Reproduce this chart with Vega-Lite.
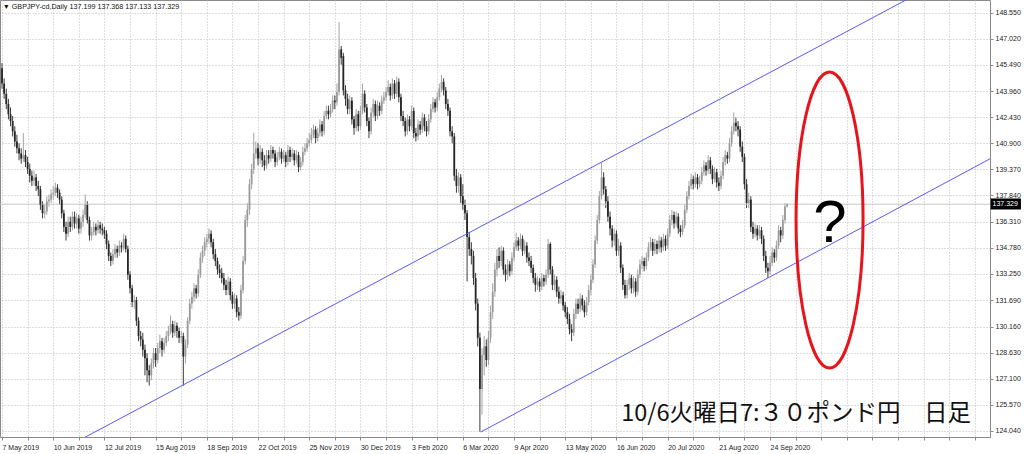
{
"$schema":"https://vega.github.io/schema/vega-lite/v6.json",
"width":990,"height":437,
"autosize":{"type":"none"},
"padding":{"left":0,"top":0,"right":34,"bottom":17},
"background":"#ffffff",
"config":{"view":{"stroke":"#8a8a8a","strokeWidth":1},"font":"Liberation Sans",
"axis":{"title":null,"domain":false,"labelFont":"Liberation Sans","labelFontSize":7,"labelColor":"#1a1a1a","ticks":true,"tickSize":3,"tickColor":"#8a8a8a","grid":true,"gridColor":"#bdbdbd","gridDash":[1,2],"gridWidth":1,"labelOverlap":false,"labelFlush":false,"labelBound":false}},
"datasets":{
"candles":[
{"i":0,"o":145.3,"h":145.6,"l":144.1,"c":144.4},{"i":1,"o":144.4,"h":144.7,"l":143.5,"c":143.8},{"i":2,"o":143.8,"h":144.1,"l":142.9,"c":143.2},{"i":3,"o":143.2,"h":143.5,"l":142.3,"c":142.6},{"i":4,"o":142.6,"h":143.0,"l":141.9,"c":142.2},{"i":5,"o":142.2,"h":142.5,"l":141.3,"c":141.6},{"i":6,"o":141.6,"h":141.9,"l":140.7,"c":141.0},{"i":7,"o":141.0,"h":141.4,"l":140.3,"c":140.6},{"i":8,"o":140.6,"h":140.9,"l":139.9,"c":140.3},{"i":9,"o":140.3,"h":140.6,"l":139.7,"c":140.0},{"i":10,"o":140.0,"h":141.5,"l":139.8,"c":140.2},{"i":11,"o":140.2,"h":140.5,"l":139.5,"c":139.8},
{"i":12,"o":139.8,"h":140.1,"l":139.1,"c":139.4},{"i":13,"o":139.4,"h":139.7,"l":138.6,"c":139.0},{"i":14,"o":139.0,"h":139.3,"l":138.4,"c":138.7},{"i":15,"o":138.7,"h":139.3,"l":138.4,"c":138.9},{"i":16,"o":138.9,"h":139.1,"l":138.1,"c":138.4},{"i":17,"o":138.4,"h":138.7,"l":137.8,"c":138.2},{"i":18,"o":138.2,"h":138.4,"l":137.0,"c":137.3},{"i":19,"o":137.3,"h":137.5,"l":136.5,"c":136.8},{"i":20,"o":136.8,"h":137.3,"l":136.5,"c":136.9},{"i":21,"o":136.9,"h":137.8,"l":136.7,"c":137.5},{"i":22,"o":137.5,"h":137.9,"l":137.2,"c":137.6},{"i":23,"o":137.6,"h":138.2,"l":137.4,"c":137.9},
{"i":24,"o":137.9,"h":138.4,"l":137.6,"c":138.0},{"i":25,"o":138.0,"h":138.6,"l":137.8,"c":138.3},{"i":26,"o":138.3,"h":138.5,"l":137.7,"c":138.0},{"i":27,"o":138.0,"h":138.2,"l":137.3,"c":137.6},{"i":28,"o":137.6,"h":137.8,"l":136.5,"c":136.8},{"i":29,"o":136.8,"h":137.0,"l":135.7,"c":136.0},{"i":30,"o":136.0,"h":136.3,"l":135.2,"c":135.6},{"i":31,"o":135.6,"h":136.6,"l":135.4,"c":136.3},{"i":32,"o":136.3,"h":136.6,"l":135.7,"c":136.0},{"i":33,"o":136.0,"h":136.9,"l":135.8,"c":136.6},{"i":34,"o":136.6,"h":136.9,"l":135.9,"c":136.2},{"i":35,"o":136.2,"h":136.8,"l":135.9,"c":136.5},
{"i":36,"o":136.5,"h":136.7,"l":135.6,"c":135.9},{"i":37,"o":135.9,"h":136.6,"l":135.6,"c":136.3},{"i":38,"o":136.3,"h":137.0,"l":136.0,"c":136.7},{"i":39,"o":136.7,"h":137.9,"l":136.5,"c":137.3},{"i":40,"o":137.3,"h":137.5,"l":136.2,"c":136.4},{"i":41,"o":136.4,"h":136.6,"l":135.2,"c":135.5},{"i":42,"o":135.5,"h":136.0,"l":135.2,"c":135.7},{"i":43,"o":135.7,"h":136.3,"l":135.5,"c":136.0},{"i":44,"o":136.0,"h":136.2,"l":135.5,"c":135.8},{"i":45,"o":135.8,"h":136.4,"l":135.6,"c":136.1},{"i":46,"o":136.1,"h":136.3,"l":135.6,"c":135.9},{"i":47,"o":135.9,"h":136.2,"l":135.5,"c":135.8},
{"i":48,"o":135.8,"h":136.0,"l":135.3,"c":135.6},{"i":49,"o":135.6,"h":135.8,"l":134.7,"c":135.0},{"i":50,"o":135.0,"h":135.2,"l":134.0,"c":134.3},{"i":51,"o":134.3,"h":134.5,"l":133.7,"c":134.0},{"i":52,"o":134.0,"h":134.7,"l":133.8,"c":134.4},{"i":53,"o":134.4,"h":135.0,"l":134.2,"c":134.7},{"i":54,"o":134.7,"h":134.9,"l":134.2,"c":134.5},{"i":55,"o":134.5,"h":135.2,"l":134.3,"c":134.9},{"i":56,"o":134.9,"h":135.1,"l":134.5,"c":134.8},{"i":57,"o":134.8,"h":135.6,"l":134.6,"c":135.3},{"i":58,"o":135.3,"h":135.5,"l":134.5,"c":134.7},{"i":59,"o":134.7,"h":134.9,"l":132.9,"c":133.2},
{"i":60,"o":133.2,"h":133.4,"l":132.1,"c":132.4},{"i":61,"o":132.4,"h":132.6,"l":131.3,"c":131.6},{"i":62,"o":131.6,"h":132.0,"l":131.2,"c":131.7},{"i":63,"o":131.7,"h":131.9,"l":130.2,"c":130.5},{"i":64,"o":130.5,"h":130.7,"l":129.3,"c":129.6},{"i":65,"o":129.6,"h":129.9,"l":129.0,"c":129.4},{"i":66,"o":129.4,"h":129.8,"l":128.4,"c":128.8},{"i":67,"o":128.8,"h":129.1,"l":127.3,"c":128.3},{"i":68,"o":128.3,"h":128.6,"l":126.9,"c":127.6},{"i":69,"o":127.6,"h":127.9,"l":126.7,"c":127.3},{"i":70,"o":127.3,"h":128.3,"l":127.0,"c":128.0},{"i":71,"o":128.0,"h":128.9,"l":127.7,"c":128.6},
{"i":72,"o":128.6,"h":128.9,"l":127.8,"c":128.2},{"i":73,"o":128.2,"h":129.2,"l":128.0,"c":128.9},{"i":74,"o":128.9,"h":129.7,"l":128.6,"c":129.3},{"i":75,"o":129.3,"h":129.5,"l":128.4,"c":128.8},{"i":76,"o":128.8,"h":129.5,"l":128.6,"c":129.2},{"i":77,"o":129.2,"h":129.9,"l":129.0,"c":129.6},{"i":78,"o":129.6,"h":130.2,"l":129.3,"c":129.9},{"i":79,"o":129.9,"h":130.8,"l":129.7,"c":130.3},{"i":80,"o":130.3,"h":130.5,"l":129.5,"c":129.8},{"i":81,"o":129.8,"h":130.5,"l":129.6,"c":130.2},{"i":82,"o":130.2,"h":130.4,"l":129.5,"c":129.9},{"i":83,"o":129.9,"h":130.1,"l":129.2,"c":129.5},
{"i":84,"o":129.5,"h":129.9,"l":129.2,"c":129.6},{"i":85,"o":129.6,"h":129.8,"l":126.7,"c":128.4},{"i":86,"o":128.4,"h":129.4,"l":128.0,"c":129.1},{"i":87,"o":129.1,"h":130.7,"l":128.9,"c":130.5},{"i":88,"o":130.5,"h":131.8,"l":130.3,"c":131.5},{"i":89,"o":131.5,"h":132.2,"l":131.2,"c":131.9},{"i":90,"o":131.9,"h":132.7,"l":131.6,"c":132.4},{"i":91,"o":132.4,"h":132.6,"l":131.8,"c":132.1},{"i":92,"o":132.1,"h":133.5,"l":131.9,"c":133.2},{"i":93,"o":133.2,"h":134.5,"l":133.0,"c":134.2},{"i":94,"o":134.2,"h":134.9,"l":133.9,"c":134.6},{"i":95,"o":134.6,"h":135.4,"l":134.3,"c":135.1},
{"i":96,"o":135.1,"h":135.6,"l":134.8,"c":135.3},{"i":97,"o":135.3,"h":135.9,"l":135.0,"c":135.6},{"i":98,"o":135.6,"h":135.8,"l":134.8,"c":135.1},{"i":99,"o":135.1,"h":135.3,"l":134.1,"c":134.4},{"i":100,"o":134.4,"h":134.7,"l":133.7,"c":134.0},{"i":101,"o":134.0,"h":134.2,"l":133.2,"c":133.5},{"i":102,"o":133.5,"h":133.8,"l":133.0,"c":133.3},{"i":103,"o":133.3,"h":133.6,"l":132.7,"c":133.0},{"i":104,"o":133.0,"h":133.3,"l":132.3,"c":132.6},{"i":105,"o":132.6,"h":132.9,"l":132.0,"c":132.3},{"i":106,"o":132.3,"h":133.1,"l":132.0,"c":132.8},{"i":107,"o":132.8,"h":133.0,"l":131.7,"c":132.0},
{"i":108,"o":132.0,"h":132.2,"l":131.2,"c":131.5},{"i":109,"o":131.5,"h":132.1,"l":131.2,"c":131.8},{"i":110,"o":131.8,"h":132.0,"l":130.7,"c":131.0},{"i":111,"o":131.0,"h":131.3,"l":130.5,"c":130.8},{"i":112,"o":130.8,"h":132.6,"l":130.6,"c":132.3},{"i":113,"o":132.3,"h":134.3,"l":132.1,"c":134.0},{"i":114,"o":134.0,"h":136.7,"l":133.8,"c":136.4},{"i":115,"o":136.4,"h":137.4,"l":136.0,"c":137.0},{"i":116,"o":137.0,"h":138.8,"l":136.7,"c":138.5},{"i":117,"o":138.5,"h":139.7,"l":138.2,"c":139.4},{"i":118,"o":139.4,"h":141.5,"l":139.1,"c":140.3},{"i":119,"o":140.3,"h":141.0,"l":140.0,"c":140.6},
{"i":120,"o":140.6,"h":140.9,"l":139.6,"c":140.0},{"i":121,"o":140.0,"h":140.8,"l":139.7,"c":140.4},{"i":122,"o":140.4,"h":140.6,"l":139.5,"c":139.9},{"i":123,"o":139.9,"h":140.2,"l":139.3,"c":139.6},{"i":124,"o":139.6,"h":140.5,"l":139.4,"c":140.2},{"i":125,"o":140.2,"h":140.5,"l":139.7,"c":140.0},{"i":126,"o":140.0,"h":140.8,"l":139.8,"c":140.5},{"i":127,"o":140.5,"h":140.7,"l":140.0,"c":140.3},{"i":128,"o":140.3,"h":140.5,"l":139.5,"c":139.8},{"i":129,"o":139.8,"h":140.4,"l":139.6,"c":140.1},{"i":130,"o":140.1,"h":140.7,"l":139.9,"c":140.4},{"i":131,"o":140.4,"h":140.6,"l":139.7,"c":140.0},
{"i":132,"o":140.0,"h":140.5,"l":139.8,"c":140.2},{"i":133,"o":140.2,"h":140.4,"l":139.5,"c":139.8},{"i":134,"o":139.8,"h":140.8,"l":139.6,"c":140.5},{"i":135,"o":140.5,"h":140.7,"l":139.8,"c":140.1},{"i":136,"o":140.1,"h":140.6,"l":139.9,"c":140.3},{"i":137,"o":140.3,"h":140.5,"l":139.6,"c":139.9},{"i":138,"o":139.9,"h":140.5,"l":139.7,"c":140.2},{"i":139,"o":140.2,"h":140.4,"l":139.2,"c":139.5},{"i":140,"o":139.5,"h":140.1,"l":139.3,"c":139.8},{"i":141,"o":139.8,"h":140.7,"l":139.6,"c":140.4},{"i":142,"o":140.4,"h":140.9,"l":140.2,"c":140.6},{"i":143,"o":140.6,"h":141.2,"l":140.4,"c":140.9},
{"i":144,"o":140.9,"h":141.5,"l":140.7,"c":141.1},{"i":145,"o":141.1,"h":141.8,"l":140.9,"c":141.4},{"i":146,"o":141.4,"h":142.0,"l":141.2,"c":141.7},{"i":147,"o":141.7,"h":141.9,"l":140.9,"c":141.2},{"i":148,"o":141.2,"h":141.8,"l":141.0,"c":141.5},{"i":149,"o":141.5,"h":142.3,"l":141.3,"c":142.0},{"i":150,"o":142.0,"h":142.2,"l":141.3,"c":141.6},{"i":151,"o":141.6,"h":142.8,"l":141.4,"c":142.5},{"i":152,"o":142.5,"h":143.1,"l":142.3,"c":142.8},{"i":153,"o":142.8,"h":143.1,"l":142.3,"c":142.6},{"i":154,"o":142.6,"h":143.2,"l":142.4,"c":142.9},{"i":155,"o":142.9,"h":143.7,"l":142.7,"c":143.4},
{"i":156,"o":143.4,"h":143.7,"l":142.9,"c":143.3},{"i":157,"o":143.3,"h":144.4,"l":143.1,"c":143.9},{"i":158,"o":143.9,"h":148.0,"l":143.7,"c":146.4},{"i":159,"o":146.4,"h":146.6,"l":145.5,"c":145.9},{"i":160,"o":146.0,"h":146.2,"l":143.7,"c":144.0},{"i":161,"o":144.0,"h":144.3,"l":143.1,"c":143.5},{"i":162,"o":143.5,"h":143.8,"l":142.6,"c":142.9},{"i":163,"o":142.9,"h":143.7,"l":142.6,"c":143.4},{"i":164,"o":143.4,"h":143.6,"l":142.0,"c":142.3},{"i":165,"o":142.3,"h":142.5,"l":141.4,"c":141.8},{"i":166,"o":141.8,"h":142.9,"l":141.6,"c":142.6},{"i":167,"o":142.6,"h":142.8,"l":141.6,"c":141.9},
{"i":168,"o":141.9,"h":143.1,"l":141.7,"c":142.8},{"i":169,"o":142.8,"h":144.4,"l":142.6,"c":143.8},{"i":170,"o":143.8,"h":144.0,"l":142.7,"c":143.0},{"i":171,"o":143.0,"h":143.2,"l":141.9,"c":142.2},{"i":172,"o":142.2,"h":142.4,"l":141.2,"c":141.6},{"i":173,"o":141.6,"h":143.0,"l":141.4,"c":142.7},{"i":174,"o":142.7,"h":143.5,"l":142.4,"c":143.2},{"i":175,"o":143.2,"h":143.4,"l":142.2,"c":142.5},{"i":176,"o":142.5,"h":143.4,"l":142.3,"c":143.1},{"i":177,"o":143.1,"h":143.3,"l":142.5,"c":142.8},{"i":178,"o":142.8,"h":143.7,"l":142.6,"c":143.4},{"i":179,"o":143.4,"h":143.9,"l":143.2,"c":143.6},
{"i":180,"o":143.6,"h":144.2,"l":143.4,"c":143.9},{"i":181,"o":143.9,"h":144.6,"l":143.7,"c":144.2},{"i":182,"o":144.2,"h":144.4,"l":143.4,"c":143.7},{"i":183,"o":143.7,"h":144.7,"l":143.5,"c":144.4},{"i":184,"o":144.4,"h":144.6,"l":143.5,"c":143.8},{"i":185,"o":143.8,"h":144.8,"l":143.6,"c":144.5},{"i":186,"o":144.5,"h":144.7,"l":143.3,"c":143.6},{"i":187,"o":143.6,"h":143.8,"l":142.2,"c":142.5},{"i":188,"o":142.5,"h":142.8,"l":141.9,"c":142.2},{"i":189,"o":142.2,"h":142.4,"l":141.3,"c":141.6},{"i":190,"o":141.6,"h":142.6,"l":141.4,"c":142.3},{"i":191,"o":142.3,"h":142.5,"l":141.6,"c":141.9},
{"i":192,"o":141.9,"h":143.1,"l":141.7,"c":142.8},{"i":193,"o":142.8,"h":143.0,"l":141.2,"c":141.5},{"i":194,"o":141.5,"h":141.8,"l":141.0,"c":141.3},{"i":195,"o":141.3,"h":142.3,"l":141.1,"c":142.0},{"i":196,"o":142.0,"h":142.2,"l":141.4,"c":141.7},{"i":197,"o":141.7,"h":142.7,"l":141.5,"c":142.4},{"i":198,"o":142.4,"h":142.6,"l":141.6,"c":141.9},{"i":199,"o":141.9,"h":142.2,"l":141.3,"c":141.6},{"i":200,"o":141.6,"h":142.6,"l":141.4,"c":142.3},{"i":201,"o":142.3,"h":143.2,"l":142.1,"c":142.9},{"i":202,"o":142.9,"h":143.6,"l":142.7,"c":143.3},{"i":203,"o":143.3,"h":143.5,"l":142.7,"c":143.0},
{"i":204,"o":143.0,"h":143.9,"l":142.8,"c":143.6},{"i":205,"o":143.6,"h":144.4,"l":143.4,"c":144.1},{"i":206,"o":144.1,"h":144.9,"l":143.9,"c":144.5},{"i":207,"o":144.5,"h":144.7,"l":143.7,"c":144.0},{"i":208,"o":144.0,"h":144.2,"l":142.9,"c":143.2},{"i":209,"o":143.2,"h":143.5,"l":142.5,"c":142.8},{"i":210,"o":142.8,"h":143.0,"l":141.3,"c":141.6},{"i":211,"o":141.6,"h":141.9,"l":140.9,"c":141.3},{"i":212,"o":141.3,"h":141.5,"l":138.7,"c":139.0},{"i":213,"o":139.0,"h":139.4,"l":138.0,"c":138.4},{"i":214,"o":138.4,"h":139.2,"l":138.0,"c":138.9},{"i":215,"o":138.9,"h":139.1,"l":137.4,"c":137.8},
{"i":216,"o":137.8,"h":138.5,"l":137.0,"c":137.3},{"i":217,"o":137.3,"h":137.6,"l":136.4,"c":136.8},{"i":218,"o":136.8,"h":137.0,"l":132.8,"c":135.4},{"i":219,"o":135.4,"h":135.7,"l":134.3,"c":134.7},{"i":220,"o":134.7,"h":135.1,"l":133.8,"c":134.3},{"i":221,"o":134.3,"h":134.6,"l":132.6,"c":133.0},{"i":222,"o":133.0,"h":133.3,"l":131.1,"c":131.5},{"i":223,"o":131.5,"h":131.8,"l":129.0,"c":129.5},{"i":224,"o":129.5,"h":129.8,"l":124.0,"c":126.5},{"i":225,"o":126.5,"h":128.9,"l":125.0,"c":128.5},{"i":226,"o":128.5,"h":129.6,"l":127.3,"c":129.0},{"i":227,"o":129.0,"h":129.4,"l":127.8,"c":128.2},
{"i":228,"o":128.2,"h":129.9,"l":127.9,"c":129.5},{"i":229,"o":129.5,"h":131.4,"l":129.2,"c":131.0},{"i":230,"o":131.0,"h":132.7,"l":130.6,"c":132.2},{"i":231,"o":132.2,"h":133.9,"l":131.9,"c":133.5},{"i":232,"o":133.5,"h":134.7,"l":133.1,"c":134.3},{"i":233,"o":134.3,"h":134.8,"l":133.6,"c":134.0},{"i":234,"o":134.0,"h":134.9,"l":133.7,"c":134.6},{"i":235,"o":134.6,"h":134.8,"l":133.2,"c":133.5},{"i":236,"o":133.5,"h":133.8,"l":132.8,"c":133.2},{"i":237,"o":133.2,"h":134.1,"l":132.9,"c":133.8},{"i":238,"o":133.8,"h":134.0,"l":133.1,"c":133.4},{"i":239,"o":133.4,"h":134.5,"l":133.2,"c":134.2},
{"i":240,"o":134.2,"h":135.1,"l":134.0,"c":134.8},{"i":241,"o":134.8,"h":135.65,"l":134.6,"c":135.2},{"i":242,"o":135.2,"h":135.4,"l":134.6,"c":134.9},{"i":243,"o":134.9,"h":135.6,"l":134.7,"c":135.3},{"i":244,"o":135.3,"h":135.5,"l":134.3,"c":134.6},{"i":245,"o":134.6,"h":135.2,"l":134.4,"c":134.9},{"i":246,"o":134.9,"h":135.1,"l":133.9,"c":134.2},{"i":247,"o":134.2,"h":134.5,"l":133.7,"c":134.0},{"i":248,"o":134.0,"h":134.3,"l":133.3,"c":133.6},{"i":249,"o":133.6,"h":133.8,"l":132.7,"c":133.0},{"i":250,"o":133.0,"h":133.3,"l":132.2,"c":132.6},{"i":251,"o":132.6,"h":133.1,"l":132.3,"c":132.8},
{"i":252,"o":132.8,"h":133.0,"l":132.2,"c":132.5},{"i":253,"o":132.5,"h":133.3,"l":132.3,"c":133.0},{"i":254,"o":133.0,"h":133.2,"l":132.5,"c":132.8},{"i":255,"o":132.8,"h":133.5,"l":132.6,"c":133.2},{"i":256,"o":133.2,"h":135.3,"l":133.0,"c":135.0},{"i":257,"o":135.0,"h":135.1,"l":133.2,"c":133.5},{"i":258,"o":133.5,"h":133.7,"l":132.3,"c":132.6},{"i":259,"o":132.6,"h":133.2,"l":132.3,"c":132.9},{"i":260,"o":132.9,"h":133.1,"l":131.9,"c":132.2},{"i":261,"o":132.2,"h":132.5,"l":131.5,"c":131.8},{"i":262,"o":131.8,"h":132.3,"l":131.5,"c":132.0},{"i":263,"o":132.0,"h":132.2,"l":131.1,"c":131.4},
{"i":264,"o":131.4,"h":131.6,"l":130.7,"c":131.0},{"i":265,"o":131.0,"h":131.3,"l":130.3,"c":130.6},{"i":266,"o":130.6,"h":130.9,"l":129.7,"c":130.0},{"i":267,"o":130.0,"h":130.3,"l":129.3,"c":129.8},{"i":268,"o":129.8,"h":131.2,"l":129.6,"c":130.9},{"i":269,"o":130.9,"h":131.8,"l":130.6,"c":131.5},{"i":270,"o":131.5,"h":131.8,"l":130.9,"c":131.2},{"i":271,"o":131.2,"h":132.1,"l":131.0,"c":131.8},{"i":272,"o":131.8,"h":132.0,"l":131.1,"c":131.4},{"i":273,"o":131.4,"h":131.7,"l":130.7,"c":131.0},{"i":274,"o":131.0,"h":131.9,"l":130.8,"c":131.6},{"i":275,"o":131.6,"h":132.6,"l":131.4,"c":132.3},
{"i":276,"o":132.3,"h":133.2,"l":132.0,"c":132.9},{"i":277,"o":132.9,"h":134.1,"l":132.7,"c":133.8},{"i":278,"o":133.8,"h":135.5,"l":133.6,"c":135.2},{"i":279,"o":135.2,"h":136.7,"l":135.0,"c":136.4},{"i":280,"o":136.4,"h":138.1,"l":136.2,"c":137.8},{"i":281,"o":137.8,"h":139.75,"l":137.6,"c":138.9},{"i":282,"o":138.9,"h":139.2,"l":137.9,"c":138.2},{"i":283,"o":138.2,"h":138.4,"l":137.1,"c":137.5},{"i":284,"o":137.5,"h":137.8,"l":136.3,"c":136.6},{"i":285,"o":136.6,"h":136.9,"l":135.5,"c":135.9},{"i":286,"o":135.9,"h":136.1,"l":134.8,"c":135.2},{"i":287,"o":135.2,"h":135.9,"l":134.9,"c":135.6},
{"i":288,"o":135.6,"h":135.8,"l":134.3,"c":134.6},{"i":289,"o":134.6,"h":135.3,"l":134.3,"c":134.9},{"i":290,"o":134.9,"h":135.1,"l":133.3,"c":133.6},{"i":291,"o":133.6,"h":133.8,"l":132.3,"c":132.6},{"i":292,"o":132.6,"h":132.9,"l":131.8,"c":132.0},{"i":293,"o":132.0,"h":132.9,"l":131.8,"c":132.6},{"i":294,"o":132.6,"h":133.3,"l":132.3,"c":133.0},{"i":295,"o":133.0,"h":133.2,"l":132.1,"c":132.4},{"i":296,"o":132.4,"h":133.1,"l":132.1,"c":132.8},{"i":297,"o":132.8,"h":133.0,"l":131.9,"c":132.2},{"i":298,"o":132.2,"h":133.5,"l":132.0,"c":133.2},{"i":299,"o":133.2,"h":134.1,"l":133.0,"c":133.8},
{"i":300,"o":133.8,"h":134.3,"l":133.5,"c":134.0},{"i":301,"o":134.0,"h":134.2,"l":133.4,"c":133.7},{"i":302,"o":133.7,"h":134.5,"l":133.5,"c":134.2},{"i":303,"o":134.2,"h":135.1,"l":134.0,"c":134.8},{"i":304,"o":134.8,"h":135.4,"l":134.6,"c":135.1},{"i":305,"o":135.1,"h":135.3,"l":134.3,"c":134.6},{"i":306,"o":134.6,"h":135.3,"l":134.4,"c":135.0},{"i":307,"o":135.0,"h":135.2,"l":134.4,"c":134.7},{"i":308,"o":134.7,"h":135.5,"l":134.5,"c":135.2},{"i":309,"o":135.2,"h":135.4,"l":134.5,"c":134.8},{"i":310,"o":134.8,"h":135.6,"l":134.6,"c":135.3},{"i":311,"o":135.3,"h":135.5,"l":134.6,"c":134.9},
{"i":312,"o":134.9,"h":135.9,"l":134.7,"c":135.6},{"i":313,"o":135.6,"h":136.7,"l":135.4,"c":136.4},{"i":314,"o":136.4,"h":137.0,"l":136.1,"c":136.7},{"i":315,"o":136.7,"h":136.9,"l":135.9,"c":136.2},{"i":316,"o":136.2,"h":136.9,"l":136.0,"c":136.6},{"i":317,"o":136.6,"h":136.8,"l":135.6,"c":135.9},{"i":318,"o":135.9,"h":136.1,"l":135.4,"c":135.7},{"i":319,"o":135.7,"h":136.4,"l":135.5,"c":136.1},{"i":320,"o":136.1,"h":137.3,"l":135.9,"c":137.0},{"i":321,"o":137.0,"h":138.1,"l":136.8,"c":137.8},{"i":322,"o":137.8,"h":138.7,"l":137.6,"c":138.4},{"i":323,"o":138.4,"h":139.1,"l":138.2,"c":138.8},
{"i":324,"o":138.8,"h":139.0,"l":138.2,"c":138.5},{"i":325,"o":138.5,"h":139.2,"l":138.3,"c":138.9},{"i":326,"o":138.9,"h":139.1,"l":138.2,"c":138.5},{"i":327,"o":138.5,"h":139.0,"l":138.3,"c":138.7},{"i":328,"o":138.7,"h":139.5,"l":138.5,"c":139.2},{"i":329,"o":139.2,"h":139.9,"l":139.0,"c":139.6},{"i":330,"o":139.6,"h":139.8,"l":139.0,"c":139.3},{"i":331,"o":139.3,"h":140.2,"l":139.1,"c":139.9},{"i":332,"o":139.9,"h":140.1,"l":139.1,"c":139.4},{"i":333,"o":139.4,"h":139.6,"l":138.5,"c":138.8},{"i":334,"o":138.8,"h":139.5,"l":138.6,"c":139.2},{"i":335,"o":139.2,"h":139.4,"l":138.3,"c":138.6},
{"i":336,"o":138.6,"h":138.9,"l":138.1,"c":138.4},{"i":337,"o":138.4,"h":139.3,"l":138.2,"c":139.0},{"i":338,"o":139.0,"h":140.1,"l":138.8,"c":139.8},{"i":339,"o":139.8,"h":140.5,"l":139.6,"c":140.2},{"i":340,"o":140.2,"h":140.4,"l":139.7,"c":140.0},{"i":341,"o":140.0,"h":141.2,"l":139.8,"c":140.9},{"i":342,"o":140.9,"h":141.9,"l":140.7,"c":141.6},{"i":343,"o":141.6,"h":142.7,"l":141.4,"c":142.1},{"i":344,"o":142.1,"h":142.4,"l":141.6,"c":141.9},{"i":345,"o":141.9,"h":142.2,"l":141.3,"c":141.7},{"i":346,"o":141.7,"h":141.9,"l":140.4,"c":140.7},{"i":347,"o":140.7,"h":141.0,"l":139.8,"c":140.1},
{"i":348,"o":140.1,"h":140.3,"l":138.2,"c":138.5},{"i":349,"o":138.5,"h":138.8,"l":137.1,"c":137.4},{"i":350,"o":137.4,"h":138.0,"l":137.1,"c":137.6},{"i":351,"o":137.6,"h":137.8,"l":135.7,"c":136.0},{"i":352,"o":136.0,"h":136.3,"l":135.3,"c":135.6},{"i":353,"o":135.6,"h":136.2,"l":135.4,"c":135.9},{"i":354,"o":135.9,"h":136.1,"l":135.2,"c":135.5},{"i":355,"o":135.5,"h":136.1,"l":135.3,"c":135.8},{"i":356,"o":135.8,"h":136.0,"l":135.0,"c":135.3},{"i":357,"o":135.3,"h":135.5,"l":134.0,"c":134.3},{"i":358,"o":134.3,"h":134.6,"l":133.3,"c":133.6},{"i":359,"o":133.6,"h":133.9,"l":133.0,"c":133.4},
{"i":360,"o":133.4,"h":134.3,"l":133.2,"c":133.9},{"i":361,"o":133.9,"h":134.8,"l":133.7,"c":134.5},{"i":362,"o":134.5,"h":134.7,"l":133.9,"c":134.2},{"i":363,"o":134.2,"h":135.2,"l":134.0,"c":134.9},{"i":364,"o":134.9,"h":136.1,"l":134.7,"c":135.8},{"i":365,"o":135.8,"h":136.0,"l":135.1,"c":135.5},{"i":366,"o":135.5,"h":136.7,"l":135.3,"c":136.4},{"i":367,"o":136.4,"h":137.4,"l":136.2,"c":137.2},{"i":368,"o":137.199,"h":137.368,"l":137.133,"c":137.329}
],
"lines":[
{"g":"upper","i":30,"p":123.08},{"g":"upper","i":425,"p":149.38},
{"g":"lower","i":224.4,"p":123.98},{"g":"lower","i":470,"p":140.45}
]
},
"layer":[
{
"data":{"name":"candles"},
"mark":{"type":"rule","strokeWidth":0.9},
"encoding":{
"x":{"field":"i","type":"quantitative","title":null,"scale":{"domain":[-0.9375,463.1],"nice":false,"zero":false},
"axis":{"orient":"bottom","tickCount":1000,"values":[0,12,24,36,48,60,72,84,96,108,120,132,144,156,168,180,192,204,216,228,240,252,264,276,288,300,312,324,336,348,360,372,384,396,408,420,432,444,456],
"labelExpr":"datum.value % 24 == 0 && datum.value <= 360 ? ['7 May 2019','10 Jun 2019','12 Jul 2019','15 Aug 2019','18 Sep 2019','22 Oct 2019','25 Nov 2019','30 Dec 2019','3 Feb 2020','6 Mar 2020','9 Apr 2020','13 May 2020','16 Jun 2020','20 Jul 2020','21 Aug 2020','24 Sep 2020'][datum.value / 24] : ''",
"labelAlign":"left","labelPadding":3,"labelOverlap":false,"labelFlush":false,"labelBound":false}},
"y":{"field":"l","type":"quantitative","title":null,"scale":{"domain":[123.688,149.294],"nice":false,"zero":false},
"axis":{"orient":"right","tickCount":1000,"values":[148.55,147.02,145.49,143.96,142.43,140.9,139.37,137.84,136.31,134.78,133.25,131.69,130.16,128.63,127.1,125.57,124.04],
"format":".3f","labelPadding":2,"labelOverlap":false,"labelFlush":false,"labelBound":false}},
"y2":{"field":"h"},
"color":{"condition":{"test":"datum.c >= datum.o","value":"#9a9a9a"},"value":"#262626"}
}
},
{
"data":{"values":[{"p":137.329}]},
"mark":{"type":"rule","color":"#c6c6c6","strokeWidth":1},
"encoding":{"y":{"field":"p","type":"quantitative","title":null}}
},
{
"data":{"name":"candles"},
"mark":{"type":"rule","strokeWidth":1.8},
"encoding":{
"x":{"field":"i","type":"quantitative","title":null},
"y":{"field":"o","type":"quantitative","title":null},
"y2":{"field":"c"},
"color":{"condition":{"test":"datum.c >= datum.o","value":"#9a9a9a"},"value":"#262626"}
}
},
{
"data":{"name":"lines"},
"mark":{"type":"line","color":"#5a5af0","strokeWidth":1,"clip":true},
"encoding":{
"x":{"field":"i","type":"quantitative","title":null},
"y":{"field":"p","type":"quantitative","title":null},
"detail":{"field":"g"}
}
},
{
"data":{"values":[{"i":387.9,"p":136.4}]},
"mark":{"type":"point","filled":false,"stroke":"#e8141c","strokeWidth":3,"opacity":1,"size":87616,
"shape":"M0,-1C0.125,-1,0.2264,-0.5523,0.2264,0C0.2264,0.5523,0.125,1,0,1C-0.125,1,-0.2264,0.5523,-0.2264,0C-0.2264,-0.5523,-0.125,-1,0,-1Z"},
"encoding":{
"x":{"field":"i","type":"quantitative","title":null},
"y":{"field":"p","type":"quantitative","title":null}
}
},
{
"data":{"values":[{"i":388.1,"p":135.116,"t":"?"}]},
"mark":{"type":"text","font":"Liberation Sans","fontSize":60,"color":"#000000","align":"center","baseline":"alphabetic"},
"encoding":{
"x":{"field":"i","type":"quantitative","title":null},
"y":{"field":"p","type":"quantitative","title":null},
"text":{"field":"t"}
}
},
{
"data":{"values":[{"i":290.2,"p":124.63,"t":"10/6火曜日7:３０ポンド円　日足"}]},
"mark":{"type":"text","font":"Noto Sans CJK JP","fontSize":23.5,"color":"#111111","align":"left","baseline":"alphabetic"},
"encoding":{
"x":{"field":"i","type":"quantitative","title":null},
"y":{"field":"p","type":"quantitative","title":null},
"text":{"field":"t"}
}
},
{
"data":{"values":[{"i":0.3,"p":148.784,"t":"▼ GBPJPY-cd,Daily  137.199 137.368 137.133 137.329"}]},
"mark":{"type":"text","font":"Liberation Sans","fontSize":7.2,"color":"#111111","align":"left","baseline":"alphabetic"},
"encoding":{
"x":{"field":"i","type":"quantitative","title":null},
"y":{"field":"p","type":"quantitative","title":null},
"text":{"field":"t"}
}
},
{
"data":{"values":[{"i":463.4,"i2":477.6,"p":137.019,"p2":137.664}]},
"mark":{"type":"rect","color":"#000000"},
"encoding":{
"x":{"field":"i","type":"quantitative","title":null},
"x2":{"field":"i2"},
"y":{"field":"p","type":"quantitative","title":null},
"y2":{"field":"p2"}
}
},
{
"data":{"values":[{"i":464.3,"p":137.329,"t":"137.329"}]},
"mark":{"type":"text","font":"Liberation Sans","fontSize":7,"color":"#ffffff","align":"left","baseline":"middle"},
"encoding":{
"x":{"field":"i","type":"quantitative","title":null},
"y":{"field":"p","type":"quantitative","title":null},
"text":{"field":"t"}
}
}
]
}
